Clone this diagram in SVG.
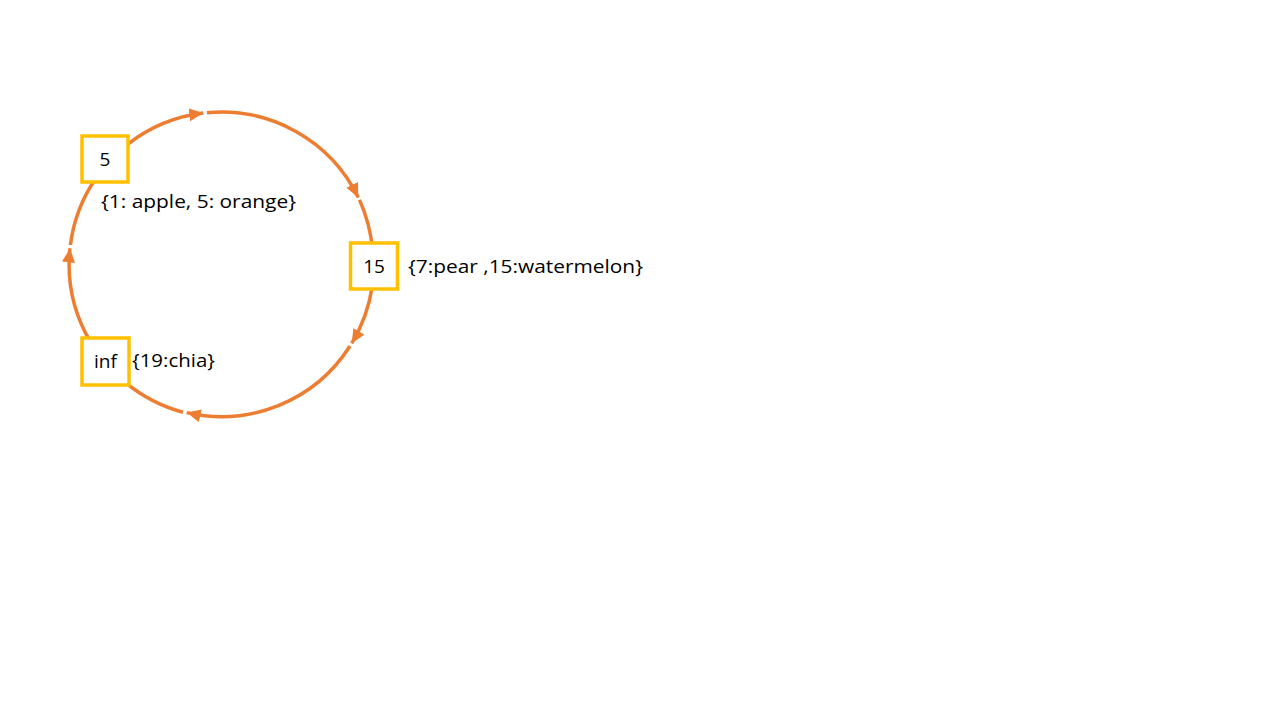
<svg xmlns="http://www.w3.org/2000/svg" width="1280" height="720" viewBox="0 0 1280 720">
<style>
.arc{fill:none;stroke:#ED7D31;stroke-width:3.5}
.box{fill:#fff;stroke:#FFC000;stroke-width:3.5}
.t{font-family:"Open Sans","Liberation Sans",Arial,sans-serif;font-size:19px;fill:#000}
.c{text-anchor:middle}
</style>
<defs>
<marker id="ah" markerUnits="userSpaceOnUse" markerWidth="16" markerHeight="14" refX="14" refY="6.5" orient="auto">
<path d="M0,0 L14,6.5 L0,13 z" fill="#ED7D31"/>
</marker>
</defs>
<rect width="1280" height="720" fill="#fff"/>
<g id="connectors">
<path class="arc" marker-end="url(#ah)" d="M128,144.1 A152.3,152.3 0 0 1 203.3,113.1"/>
<path class="arc" marker-end="url(#ah)" d="M207,112.7 A152.3,152.3 0 0 1 358.3,197.4"/>
<path class="arc" d="M359.5,199.9 A152.3,152.3 0 0 1 372.5,250"/>
<path class="arc" marker-end="url(#ah)" d="M372.4,285 A152.3,152.3 0 0 1 351.7,343.3"/>
<path class="arc" marker-end="url(#ah)" d="M350,346 A152.3,152.3 0 0 1 186.7,412.6"/>
<path class="arc" d="M183,412.2 A152.3,152.3 0 0 1 125,382.1"/>
<path class="arc" marker-end="url(#ah)" d="M90.5,342 A152.3,152.3 0 0 1 70,248.3"/>
<path class="arc" d="M70.4,245 A152.3,152.3 0 0 1 96,178"/>
</g>
<g id="node-5">
<rect class="box" x="82" y="136" width="46" height="46"/>
<text class="t c" x="105" y="166">5</text>
<text class="t" x="101" y="208" textLength="195" lengthAdjust="spacingAndGlyphs">{1: apple, 5: orange}</text>
</g>
<g id="node-15">
<rect class="box" x="350.5" y="243" width="47" height="46"/>
<text class="t c" x="374" y="273">15</text>
<text class="t" x="408" y="273" textLength="235" lengthAdjust="spacingAndGlyphs">{7:pear ,15:watermelon}</text>
</g>
<g id="node-inf">
<rect class="box" x="82" y="338" width="47" height="47"/>
<text class="t c" x="105.5" y="368">inf</text>
<text class="t" x="132" y="367" textLength="83" lengthAdjust="spacingAndGlyphs">{19:chia}</text>
</g>
</svg>
